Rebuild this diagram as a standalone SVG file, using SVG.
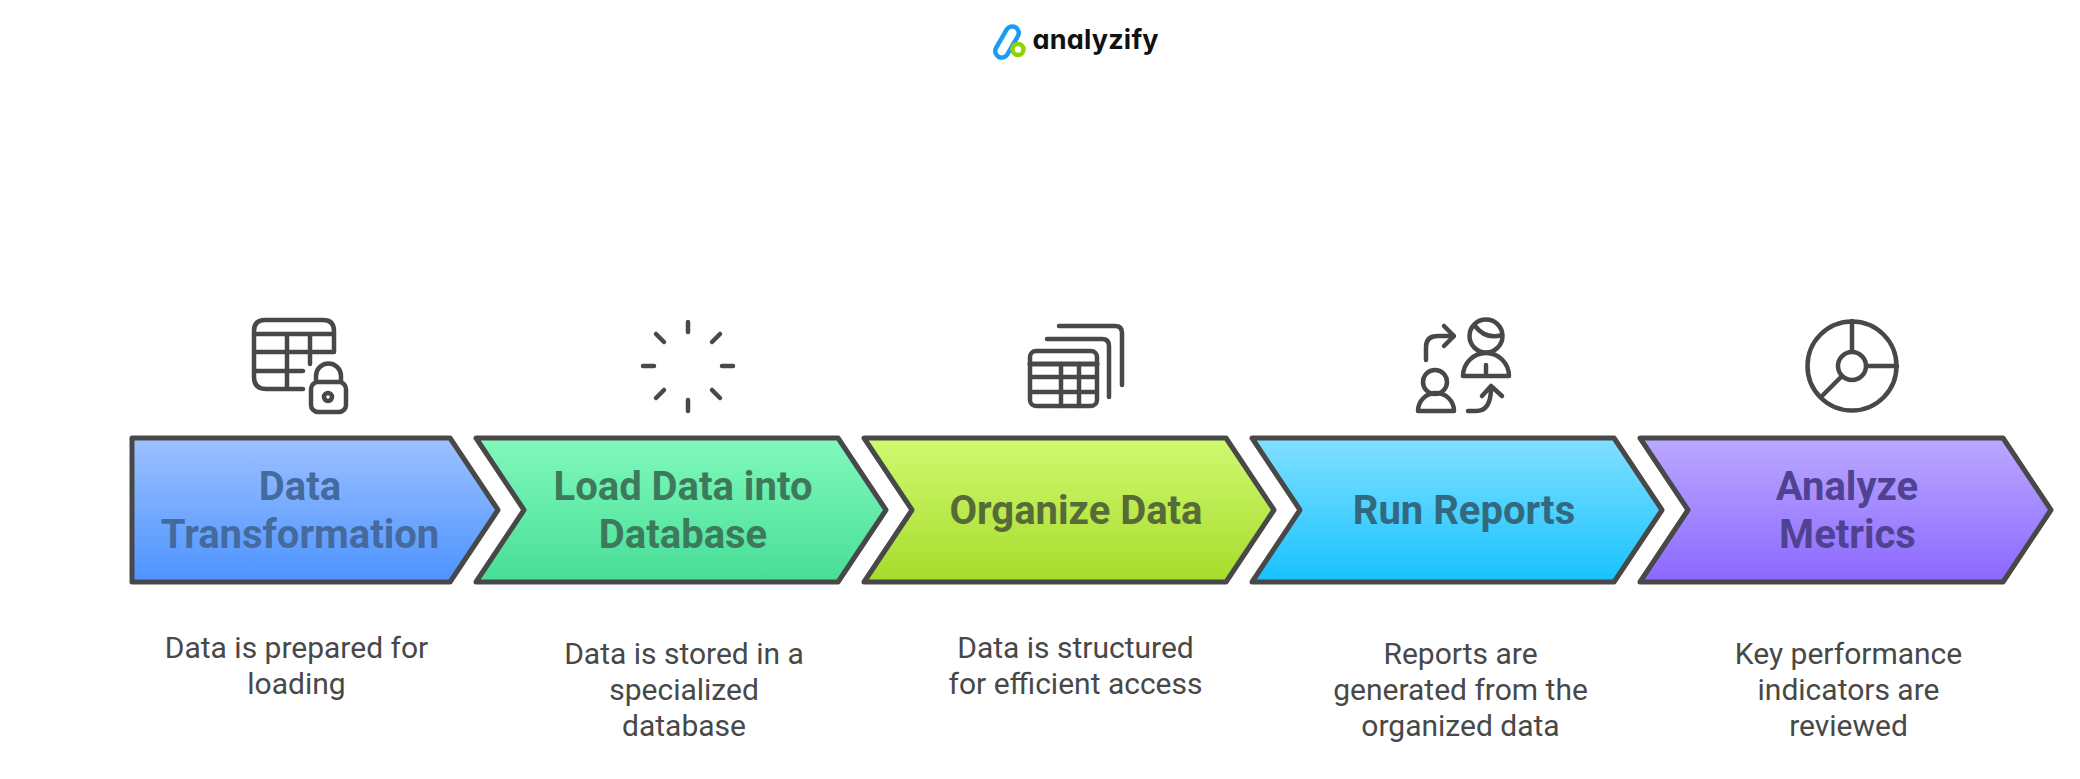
<svg xmlns="http://www.w3.org/2000/svg" width="2080" height="779" viewBox="0 0 2080 779">
<style>
.n{stroke:#484848;stroke-width:5;stroke-linejoin:round}
.t{font:700 40px Roboto,sans-serif;text-anchor:middle}
.d{font:400 30px Roboto,sans-serif;fill:#484848;text-anchor:middle}
.i{fill:none;stroke:#484848;stroke-width:4.500;stroke-linecap:round;stroke-linejoin:round}
</style>
<defs>
<linearGradient id="g1" x1="0" y1="0" x2="0" y2="1"><stop offset="0" stop-color="#9cc1ff"/><stop offset="1" stop-color="#4d93ff"/></linearGradient>
<linearGradient id="g2" x1="0" y1="0" x2="0" y2="1"><stop offset="0" stop-color="#81f9bc"/><stop offset="1" stop-color="#47de97"/></linearGradient>
<linearGradient id="g3" x1="0" y1="0" x2="0" y2="1"><stop offset="0" stop-color="#d0f970"/><stop offset="1" stop-color="#a6dc2c"/></linearGradient>
<linearGradient id="g4" x1="0" y1="0" x2="0" y2="1"><stop offset="0" stop-color="#81e0ff"/><stop offset="1" stop-color="#17c2ff"/></linearGradient>
<linearGradient id="g5" x1="0" y1="0" x2="0" y2="1"><stop offset="0" stop-color="#bba8ff"/><stop offset="1" stop-color="#8b68ff"/></linearGradient>
</defs>
<g id="logo">
<rect x="-6.500" y="-17" width="13" height="34" rx="6.500" transform="translate(1007 42) rotate(30)" fill="none" stroke="#1a9bf5" stroke-width="4.500"/>
<circle cx="1018" cy="49.500" r="5.500" fill="none" stroke="#8fd400" stroke-width="4.500"/>
<text x="1032.500" y="49" font-family="Inter,Lato,sans-serif" font-weight="700" font-size="27" letter-spacing="0.200" style="font-feature-settings:'cv11'" fill="#111">analyzify</text>
</g>
<g id="connectors"></g>
<g id="node1">
<path class="n" fill="url(#g1)" d="M132 438H450L498 510L450 582H132Z"/>
<text class="t" fill="#456a9e" x="300" y="500">Data</text><text class="t" fill="#456a9e" x="300" y="548">Transformation</text>
<text class="d" x="296.500" y="658">Data is prepared for</text><text class="d" x="296.500" y="694">loading</text>
<g class="i">
<path d="M303 389H266Q254 389 254 377V331Q254 320 265 320H323Q334 320 334 331V352H254M254 334H334M254 371H303M287 334V389M310 334V364"/>
<rect x="311" y="382" width="35" height="30" rx="7"/><circle cx="328" cy="397" r="4"/><path d="M316 381V376A12.500 12.500 0 0 1 341 376V381"/>
</g>
</g>
<g id="node2">
<path class="n" fill="url(#g2)" d="M476 438H838L886 510L838 582H476L524 510Z"/>
<text class="t" fill="#3d7a5c" x="683" y="500">Load Data into</text><text class="t" fill="#3d7a5c" x="683" y="548">Database</text>
<text class="d" x="684" y="664">Data is stored in a</text><text class="d" x="684" y="700">specialized</text><text class="d" x="684" y="736">database</text>
<g class="i">
<path d="M688 322V332M688 400V411M643 366H654M722 366H733M656 334L664 342M720 334L712 342M656 398L664 390M720 398L712 390"/>
</g>
</g>
<g id="node3">
<path class="n" fill="url(#g3)" d="M864 438H1226L1274 510L1226 582H864L912 510Z"/>
<text class="t" fill="#566b38" x="1076" y="524">Organize Data</text>
<text class="d" x="1075.500" y="658">Data is structured</text><text class="d" x="1075.500" y="694">for efficient access</text>
<g class="i">
<rect x="1030" y="351" width="67" height="55" rx="6"/>
<path d="M1030 364H1097" stroke-width="5"/><path d="M1030 377H1097M1030 392H1097M1061 364V406M1079 364V406"/>
<path d="M1047 339H1102Q1109 339 1109 346V397M1059 326H1115Q1122 326 1122 333V385"/>
</g>
</g>
<g id="node4">
<path class="n" fill="url(#g4)" d="M1252 438H1614L1662 510L1614 582H1252L1300 510Z"/>
<text class="t" fill="#33697f" x="1464" y="524">Run Reports</text>
<text class="d" x="1460.500" y="664">Reports are</text><text class="d" x="1460.500" y="700">generated from the</text><text class="d" x="1460.500" y="736">organized data</text>
<g class="i">
<circle cx="1486" cy="336" r="16.500"/><path d="M1475 326Q1486 340 1502 335"/>
<path d="M1463 376A23 23 0 0 1 1509 376ZM1486 365V373"/>
<circle cx="1435" cy="382" r="12"/><path d="M1418 411A17 17 0 0 1 1454 411Z"/>
<path d="M1426 360V347Q1426 336 1438 336H1454M1444 326L1454 336L1444 346"/>
<path d="M1468 411H1476Q1491 411 1491 388M1482 396L1491 386L1502 396"/>
</g>
</g>
<g id="node5">
<path class="n" fill="url(#g5)" d="M1640 438H2003L2051 510L2003 582H1640L1688 510Z"/>
<text class="t" fill="#4f4391" x="1847" y="500">Analyze</text><text class="t" fill="#4f4391" x="1847.500" y="548">Metrics</text>
<text class="d" x="1848.500" y="664">Key performance</text><text class="d" x="1848.500" y="700">indicators are</text><text class="d" x="1848.500" y="736">reviewed</text>
<g class="i">
<circle cx="1852" cy="366" r="44.500"/><circle cx="1852" cy="366" r="14"/>
<path d="M1852 321V351M1866 366H1897M1842 376L1821 397"/>
</g>
</g>
</svg>
